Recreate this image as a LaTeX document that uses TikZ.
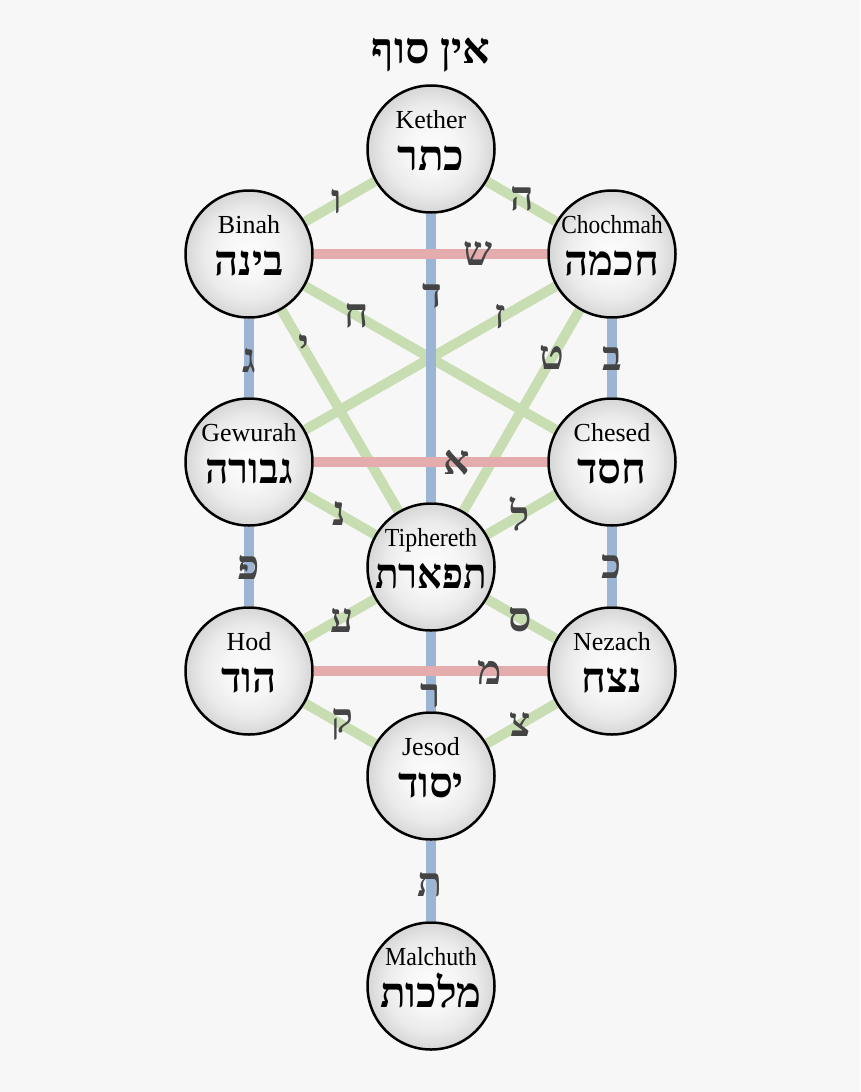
\documentclass[tikz,border=0pt]{standalone}
\usepackage{fontspec}
\usepackage{graphicx}
\setmainfont{Liberation Serif}
\newfontfamily\heb[Script=Hebrew]{Liberation Serif Bold}
\TeXXeTstate=1
\definecolor{bgc}{HTML}{F7F7F7}
\definecolor{pgreen}{RGB}{200,222,178}
\definecolor{pred}{RGB}{228,172,172}
\definecolor{pblue}{RGB}{156,181,212}
\definecolor{lblc}{HTML}{444444}
\pgfdeclareradialshading{sphshade}{\pgfpoint{0bp}{0bp}}{%
  rgb(0bp)=(0.99,0.99,0.99); rgb(10bp)=(0.965,0.965,0.965); rgb(18bp)=(0.92,0.92,0.92);
  rgb(25bp)=(0.84,0.84,0.84); rgb(50bp)=(0.84,0.84,0.84)}
\pgfdeclarelayer{back}
\pgfdeclarelayer{lines}
\pgfsetlayers{back,lines,main}
\newcommand\sfr[7]{%
  \node[sph] (#1) at (#2,#3) {};
  \node[entxt] (#1-en) at (#2,#3-21) {\scalebox{#6}[1]{#4}};
  \node[hetxt] (#1-he) at (#2,#3+21) {\scalebox{#7}[1]{\heb\beginR #5\endR}};
}
\begin{document}
\begin{tikzpicture}[x=1pt,y=-1pt,
  sph/.style={circle,draw=black,line width=2.5pt,minimum size=127pt,inner sep=0pt,
    shading=sphshade},
  entxt/.style={anchor=base,inner sep=0pt,font=\fontsize{26}{26}\selectfont},
  hetxt/.style={anchor=base,inner sep=0pt,font=\fontsize{42}{42}\selectfont},
  lbl/.style={inner sep=0pt,text=lblc,font=\heb\fontsize{41}{41}\selectfont},
  gpath/.style={draw=pgreen,line width=10pt},
  rpath/.style={draw=pred,line width=10pt},
  bpath/.style={draw=pblue,line width=10pt}]
\begin{pgfonlayer}{back}
\fill[bgc] (0,0) rectangle (860,1092);
\end{pgfonlayer}
\useasboundingbox (0,0) rectangle (860,1092);

\node[inner sep=0pt,font=\heb\fontsize{43}{43}\selectfont] (einsof) at (431,55) {\beginR אין סוף\endR};

\sfr{kether}{431}{149}{Kether}{כתר}{1}{1}
\sfr{binah}{249}{254}{Binah}{בינה}{1}{1}
\sfr{chochmah}{612}{254}{Chochmah}{חכמה}{0.9}{1}
\sfr{gewurah}{249}{462}{Gewurah}{גבורה}{1}{0.97}
\sfr{chesed}{612}{462}{Chesed}{חסד}{1}{1}
\sfr{tiphereth}{431}{567}{Tiphereth}{תפארת}{0.92}{0.92}
\sfr{hod}{249}{671}{Hod}{הוד}{1}{1}
\sfr{nezach}{612}{671}{Nezach}{נצח}{1}{1}
\sfr{jesod}{431}{776}{Jesod}{יסוד}{1}{1}
\sfr{malchuth}{431}{986}{Malchuth}{מלכות}{0.92}{1}

\begin{pgfonlayer}{lines}
% green paths
\draw[gpath] (kether) -- (binah);
\draw[gpath] (kether) -- (chochmah);
\draw[gpath] (binah) -- (chesed);
\draw[gpath] (chochmah) -- (gewurah);
\draw[gpath] (binah) -- (tiphereth);
\draw[gpath] (chochmah) -- (tiphereth);
\draw[gpath] (gewurah) -- (tiphereth);
\draw[gpath] (chesed) -- (tiphereth);
\draw[gpath] (tiphereth) -- (hod);
\draw[gpath] (tiphereth) -- (nezach);
\draw[gpath] (hod) -- (jesod);
\draw[gpath] (nezach) -- (jesod);
% blue paths
\draw[bpath] (kether) -- (tiphereth);
\draw[bpath] (binah) -- (gewurah);
\draw[bpath] (chochmah) -- (chesed);
\draw[bpath] (gewurah) -- (hod);
\draw[bpath] (chesed) -- (nezach);
\draw[bpath] (tiphereth) -- (jesod);
\draw[bpath] (jesod) -- (malchuth);
% red paths
\draw[rpath] (binah) -- (chochmah);
\draw[rpath] (gewurah) -- (chesed);
\draw[rpath] (hod) -- (nezach);
\end{pgfonlayer}

% path letters
\node[lbl] (l-vav) at (337,202) {ו};
\node[lbl] (l-he) at (522,199) {ה};
\node[lbl] (l-shin) at (478,253) {ש};
\node[lbl] (l-dalet) at (432,296) {ד};
\node[lbl] (l-chet) at (357,316) {ח};
\node[lbl] (l-zayin) at (500,317) {ז};
\node[lbl] (l-yod) at (304,346) {י};
\node[lbl] (l-tet) at (552,357) {ט};
\node[lbl] (l-gimel) at (249,361) {ג};
\node[lbl] (l-bet) at (612,358) {ב};
\node[lbl] (l-alef) at (457,463) {א};
\node[lbl] (l-nun) at (339,513) {נ};
\node[lbl] (l-lamed) at (520,514) {ל};
\node[lbl] (l-pe) at (249,567) {פ};
\node[lbl] (l-kaf) at (612,566) {כ};
\node[lbl] (l-ayin) at (342,620) {ע};
\node[lbl] (l-samech) at (520,620) {ס};
\node[lbl] (l-mem) at (490,672) {מ};
\node[lbl] (l-resh) at (431,696) {ר};
\node[lbl] (l-qof) at (342,724) {ק};
\node[lbl] (l-tsadi) at (520,724) {צ};
\node[lbl] (l-tav) at (430,885) {ת};
\end{tikzpicture}
\end{document}
